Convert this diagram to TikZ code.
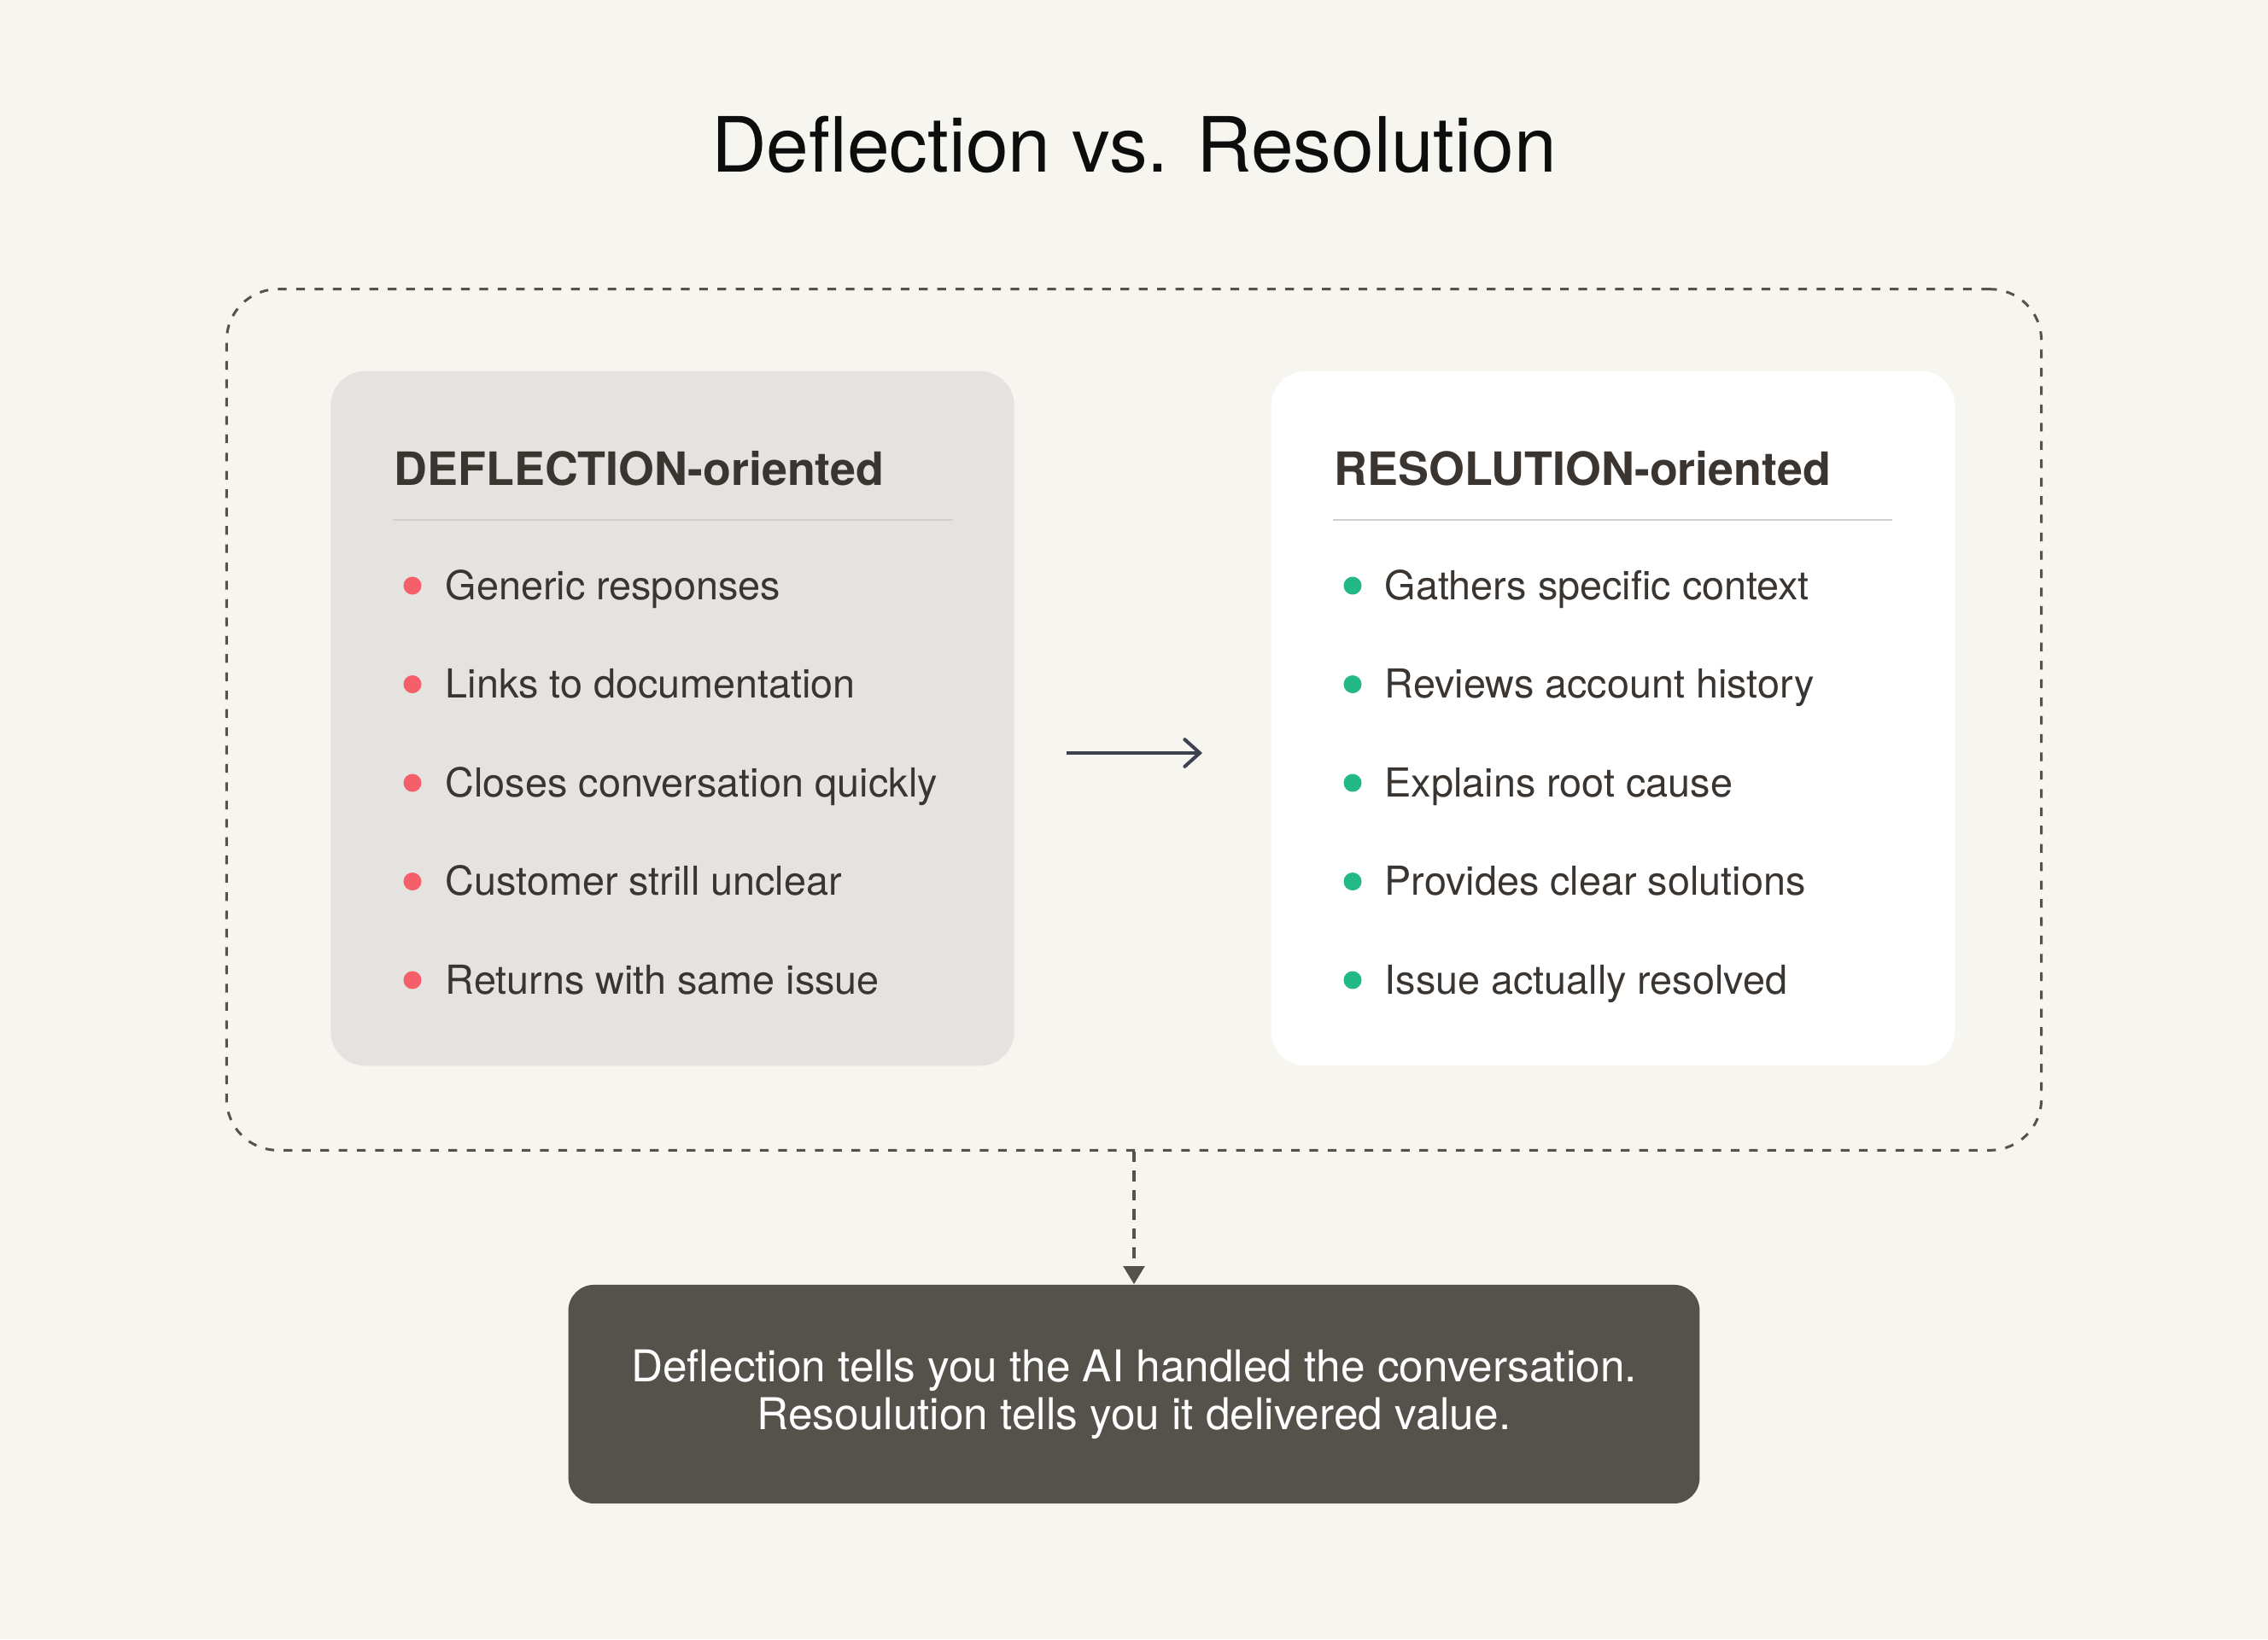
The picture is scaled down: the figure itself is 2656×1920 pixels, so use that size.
\documentclass[tikz,border=0pt]{standalone}
\usepackage{fontspec}
\setmainfont{TeX Gyre Heros}
\usetikzlibrary{arrows.meta,positioning}

\definecolor{paper}{HTML}{F6F5F0}
\definecolor{panelgrey}{HTML}{E5E3DF}
\definecolor{ink}{HTML}{3A3530}
\definecolor{rulegrey}{HTML}{D3CEC9}
\definecolor{dashgrey}{HTML}{55524C}
\definecolor{arrowink}{HTML}{3D4150}
\definecolor{badred}{HTML}{F55F6A}
\definecolor{goodgreen}{HTML}{22B888}

\tikzset{
  panel/.style={rounded corners=0.4cm, minimum width=8cm, minimum height=8.13cm, inner sep=0pt},
  heading/.style={anchor=base west, inner sep=0pt, text=ink, font=\fontsize{15.3pt}{18pt}\bfseries},
  itemtext/.style={anchor=base west, inner sep=0pt, text=ink, font=\fontsize{13.3pt}{15pt}\selectfont},
  dot/.style={circle, inner sep=0pt, minimum size=0.21cm},
}

\begin{document}
\begin{tikzpicture}[x=0.01cm,y=-0.01cm]

  % canvas
  \fill[paper] (0,0) rectangle (2656,1920);
  \useasboundingbox (0,0) rectangle (2656,1920);

  % title
  \node[text=black!95, font=\fontsize{25.4pt}{30pt}\selectfont] (title) at (1328,169) {Deflection vs. Resolution};

  % dashed frame
  \node[draw=dashgrey, line width=0.85pt, dash pattern=on 2.9pt off 3.2pt, rounded corners=0.6cm,
        minimum width=21.24cm, minimum height=10.08cm, inner sep=0pt] (frame) at (1328,843) {};

  % the two panels
  \node[panel, fill=panelgrey] (deflect) at (787.5,841.5) {};
  \node[panel, fill=white] (resolve) at (1889,841.5) {};

  % headings and rules
  \node[heading] (deflecthead) at (461,568) {DEFLECTION-oriented};
  \node[heading] (resolvehead) at (1562,568) {RESOLUTION-oriented};
  \draw[rulegrey, line width=0.6pt] (460,609) -- (1116,609);
  \draw[rulegrey, line width=0.6pt] (1561,609) -- (2216,609);

  % bullet lists
  \foreach \txt [count=\i] in {Generic responses, Links to documentation,
      Closes conversation quickly, Customer strill unclear, Returns with same issue} {
    \node[dot, fill=badred] (bad\i) at (483,{686+115.5*(\i-1)}) {};
    \node[itemtext] (badtxt\i) at (521,{702+115.5*(\i-1)}) {\txt};
  }
  \foreach \txt [count=\i] in {Gathers specific context, Reviews account history,
      Explains root cause, Provides clear solutions, Issue actually resolved} {
    \node[dot, fill=goodgreen] (good\i) at (1584,{686+115.5*(\i-1)}) {};
    \node[itemtext] (goodtxt\i) at (1621,{702+115.5*(\i-1)}) {\txt};
  }

  % arrow between the panels
  \draw[arrowink, line width=1.15pt, shorten <=0.61cm, shorten >=0.8cm,
        -{Straight Barb[length=5pt, width=9pt, line cap=round]}]
    (deflect.east |- 0,882) -- (resolve.west |- 0,882);

  % summary box
  \node[rounded corners=0.3cm, fill=dashgrey, minimum width=13.24cm, minimum height=2.56cm, inner sep=0pt,
        text=white, align=center, font=\fontsize{14.6pt}{16pt}\selectfont] (summary) at (1328,1633)
    {Deflection tells you the AI handled the conversation.\\Resoulution tells you it delivered value.};

  \draw[dashgrey, line width=1pt, dash pattern=on 3.6pt off 2.8pt, -{Triangle[length=6pt, width=7pt]}]
    (frame.south) -- (summary.north);

\end{tikzpicture}
\end{document}
